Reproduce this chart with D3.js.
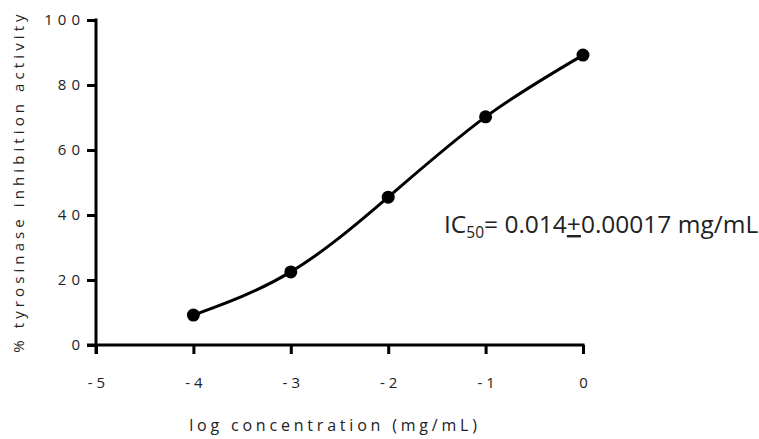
<!DOCTYPE html>
<html>
<head>
<meta charset="utf-8">
<script src="https://cdn.jsdelivr.net/npm/d3@7"></script>
<style>
  html, body { margin: 0; padding: 0; background: #fff; }
  svg { display: block; }
  .tick text { font-family: "Open Sans", "Noto Sans", sans-serif; }
</style>
</head>
<body>
<svg id="chart" width="759" height="439"></svg>
<script>
// Dose-response data: log concentration vs % inhibition
const logConc = [-4, -3, -2, -1, 0];
const inhibition = [9.2, 22.5, 45.5, 70.2, 89.2];
const xTicks = [-5, -4, -3, -2, -1, 0];
const yTicks = [0, 20, 40, 60, 80, 100];
const xTitle = "log concentration (mg/mL)";
const yTitle = "% tyrosinase inhibition activity";

const svg = d3.select("#chart");
const W = 759, H = 439;
const margin = { left: 96, right: 176, top: 20, bottom: 94 };

const x = d3.scaleLinear().domain([-5, 0]).range([margin.left, W - margin.right]);
const y = d3.scaleLinear().domain([0, 100]).range([H - margin.bottom, margin.top]);

const font = '"Open Sans", "Noto Sans", sans-serif';

// x axis
const xAxis = svg.append("g")
  .attr("transform", `translate(0,${y(0)})`)
  .call(d3.axisBottom(x).tickValues(xTicks).tickSize(9).tickSizeOuter(0).tickPadding(23)
    .tickFormat(d => d === 0 ? "0" : "-" + Math.abs(d)));
// y axis
const yAxis = svg.append("g")
  .attr("transform", `translate(${x(-5)},0)`)
  .call(d3.axisLeft(y).tickValues(yTicks).tickSize(9).tickSizeOuter(0).tickPadding(2));

[xAxis, yAxis].forEach(g => {
  g.select(".domain").attr("stroke", "#000").attr("stroke-width", 3);
  g.selectAll(".tick line").attr("stroke", "#000").attr("stroke-width", 3);
  g.selectAll(".tick text")
    .attr("fill", "#222")
    .style("font-size", "15px")
    .style("letter-spacing", "4px");
});
yAxis.selectAll(".tick text").style("letter-spacing", "5px");
// x labels: shift by half the trailing letter spacing to stay centred
xAxis.selectAll(".tick text").attr("dx", "2px");
// extend axis lines slightly so the corner overlaps cleanly
xAxis.select(".domain").attr("d", `M${x(-5) - 9},0H${x(0) + 1.5}`);
yAxis.select(".domain").attr("d", `M0,${y(100) - 1.5}V${y(0) + 9}`);

// fitted curve through the points
const line = d3.line()
  .x((d, i) => x(logConc[i]))
  .y(d => y(d))
  .curve(d3.curveNatural);
svg.append("path")
  .datum(inhibition)
  .attr("d", line)
  .attr("fill", "none")
  .attr("stroke", "#000")
  .attr("stroke-width", 3);

// data points
svg.selectAll("circle.pt")
  .data(inhibition)
  .join("circle")
  .attr("class", "pt")
  .attr("cx", (d, i) => x(logConc[i]))
  .attr("cy", d => y(d))
  .attr("r", 6.5)
  .attr("fill", "#000");

// axis titles
svg.append("text")
  .attr("x", 335)
  .attr("y", 431)
  .attr("text-anchor", "middle")
  .attr("font-family", font)
  .attr("font-size", 16)
  .attr("letter-spacing", "3.8px")
  .attr("fill", "#222")
  .text(xTitle);

svg.append("text")
  .attr("transform", `translate(24,${(y(0) + y(100)) / 2 - 1}) rotate(-90)`)
  .attr("text-anchor", "middle")
  .attr("font-family", font)
  .attr("font-size", 15)
  .attr("letter-spacing", "4.1px")
  .attr("fill", "#222")
  .text(yTitle);

// IC50 annotation
const ic = svg.append("text")
  .attr("x", 444)
  .attr("y", 233)
  .attr("font-family", font)
  .attr("font-size", 24.5)
  .attr("fill", "#222");
ic.append("tspan").text("IC");
ic.append("tspan").attr("font-size", 15.5).attr("dy", 5).text("50");
ic.append("tspan").attr("dy", -5).text("= 0.014");
ic.append("tspan").attr("text-decoration", "underline").text("+");
ic.append("tspan").text("0.00017 mg/mL");
</script>
</body>
</html>
